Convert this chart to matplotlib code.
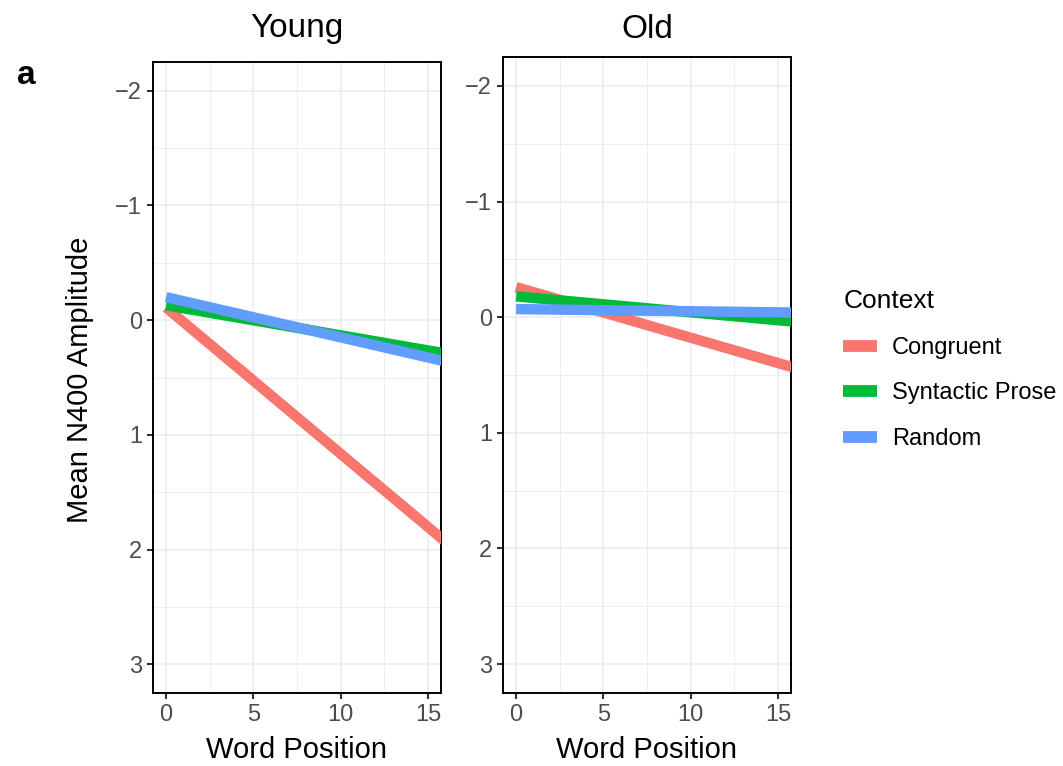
import matplotlib
matplotlib.use("Agg")
import matplotlib.pyplot as plt
from matplotlib.lines import Line2D

plt.rcParams['font.family'] = ['Liberation Sans', 'DejaVu Sans']

# podaci: krajnje tacke regresionih pravih (word position 0 i 16)
word_pos = [0, 16]
contexts = ["Congruent", "Syntactic Prose", "Random"]
colors = ["#F8766D", "#00BA38", "#619CFF"]

young_congruent = [-0.11, 1.93]
young_prose = [-0.13, 0.29]
young_random = [-0.20, 0.36]

old_congruent = [-0.26, 0.44]
old_prose = [-0.18, 0.04]
old_random = [-0.07, -0.04]

panels = [("Young", [young_congruent, young_prose, young_random]),
          ("Old", [old_congruent, old_prose, old_random])]

x_ticks = [0, 5, 10, 15]
y_ticks = [-2, -1, 0, 1, 2, 3]

W, H = 1063, 766
fig = plt.figure(figsize=(W / 100, H / 100), dpi=100)

# pozicije panela u pikselima (levo, gore, desno, dole)
boxes = [(153, 62, 441, 693), (503, 57, 791, 693)]

for (naslov, serije), (x0, y0, x1, y1) in zip(panels, boxes):
    ax = fig.add_axes([x0 / W, 1 - y1 / H, (x1 - x0) / W, (y1 - y0) / H])
    for vrednosti, boja in zip(serije, colors):
        ax.plot(word_pos, vrednosti, color=boja, lw=7.5, solid_capstyle='butt', zorder=3)
    ax.set_xlim(-0.75, 15.75)
    ax.set_ylim(3.25, -2.25)
    ax.set_xticks(x_ticks)
    ax.set_yticks(y_ticks)
    ax.set_xticks([2.5, 7.5, 12.5], minor=True)
    ax.set_yticks([-1.5, -0.5, 0.5, 1.5, 2.5], minor=True)
    ax.grid(which='major', color='#EBEBEB', lw=1.1, zorder=0)
    ax.grid(which='minor', color='#EBEBEB', lw=0.6, zorder=0)
    ax.tick_params(which='major', length=4, width=1.5, color='#333333',
                   labelsize=17, labelcolor='#4D4D4D', pad=4)
    ax.tick_params(which='minor', length=0)
    for s in ax.spines.values():
        s.set_color('black')
        s.set_linewidth(1.4)
    ax.set_axisbelow(True)
    cx = (x0 + x1) / 2 / W
    fig.text(cx, 1 - 29 / H, naslov, ha='center', va='center', fontsize=24)
    fig.text(cx, 1 - 750 / H, "Word Position", ha='center', va='center', fontsize=21)

fig.text(80 / W, 1 - 380 / H, "Mean N400 Amplitude", rotation=90,
         ha='center', va='center', fontsize=21)
fig.text(17 / W, 1 - 76 / H, "a", ha='left', va='center', fontsize=24, fontweight='bold')

# legenda
ruke = [Line2D([], [], color=c, lw=8.5, solid_capstyle='butt') for c in colors]
leg = fig.legend(ruke, contexts, title="Context", loc='upper left',
                 bbox_to_anchor=(822 / W, 1 - 268 / H), frameon=False,
                 fontsize=17, title_fontsize=19, handlelength=1.45,
                 handletextpad=0.6, labelspacing=1.0)
leg._legend_box.align = "left"

fig.savefig("out.png", dpi=100)
